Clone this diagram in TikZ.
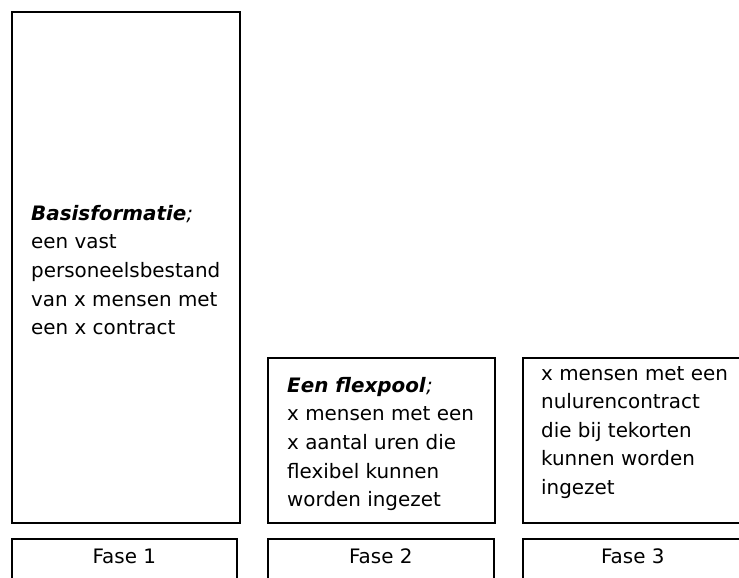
\documentclass[tikz,border=0pt]{standalone}
\usepackage{fontspec}
\setmainfont{DejaVu Sans}
\begin{document}
\begin{tikzpicture}[x=1pt,y=-1pt,
  box/.style={draw, line width=1.6pt, inner sep=0pt, anchor=north west},
  txt/.style={anchor=north west, align=left, inner sep=0pt, font=\fontsize{19.9}{28.6}\selectfont},
  fase/.style={inner sep=0pt, font=\fontsize{19.9}{28.6}\selectfont}]
\useasboundingbox (0,0) rectangle (739,578);
% upper boxes
\node[box, minimum width=228pt, minimum height=511pt] (b1) at (11,11) {};
\node[box, minimum width=227pt, minimum height=165pt] (b2) at (267,357) {};
\node[box, minimum width=230pt, minimum height=165pt] (b3) at (522,357) {};
% phase boxes
\node[box, minimum width=225pt, minimum height=60pt] (f1) at (11,538) {};
\node[box, minimum width=226pt, minimum height=60pt] (f2) at (267,538) {};
\node[box, minimum width=220pt, minimum height=60pt] (f3) at (522,538) {};
% texts
\node[txt] (t1) at (31,205) {\textbf{\textit{Basisformatie}}\textit{;}\\een vast\\personeelsbestand\\van x mensen met\\een x contract};
\node[txt] (t2) at (287,377) {\textbf{\textit{Een flexpool}}\textit{;}\\x mensen met een\\x aantal uren die\\flexibel kunnen\\worden ingezet};
\node[txt] (t3) at (541,366) {x mensen met een\\nulurencontract\\die bij tekorten\\kunnen worden\\ingezet};
\node[fase] (l1) at ([yshift=-18pt]f1.north) {Fase 1};
\node[fase] (l2) at ([yshift=-18pt]f2.north) {Fase 2};
\node[fase] (l3) at ([yshift=-18pt]f3.north) {Fase 3};
\end{tikzpicture}
\end{document}
